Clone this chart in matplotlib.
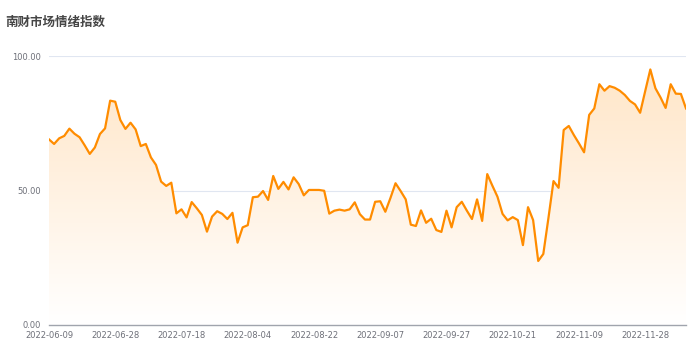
import numpy as np
import matplotlib
matplotlib.use('Agg')
import matplotlib.pyplot as plt
from matplotlib.colors import LinearSegmentedColormap

# sentiment index, one value per trading day
values = [
    69.0, 67.3, 69.4, 70.3, 73.0, 71.1, 69.8, 66.8, 63.6, 66.0,
    71.0, 73.1, 83.4, 83.0, 76.2, 72.9, 75.2, 72.7, 66.5, 67.3,
    62.3, 59.5, 53.3, 51.7, 52.9, 41.5, 43.0, 40.0, 45.7, 43.4,
    40.9, 34.7, 40.3, 42.3, 41.3, 39.4, 41.7, 30.6, 36.3, 37.1,
    47.5, 47.7, 49.8, 46.5, 55.4, 50.6, 53.2, 50.4, 54.9, 52.4,
    48.2, 50.2, 50.2, 50.2, 49.9, 41.4, 42.5, 42.9, 42.5, 43.0,
    45.6, 41.2, 39.2, 39.2, 45.8, 46.0, 42.1, 47.2, 52.7, 49.8,
    46.7, 37.3, 36.8, 42.6, 38.0, 39.5, 35.3, 34.6, 42.5, 36.3,
    43.8, 45.8, 42.5, 39.4, 46.7, 38.7, 56.1, 51.8, 47.7, 41.3,
    38.9, 40.1, 39.0, 29.7, 43.8, 39.0, 23.8, 26.4, 39.7, 53.5,
    51.0, 72.5, 74.0, 70.6, 67.5, 64.2, 78.1, 80.5, 89.5, 87.1,
    88.8, 88.2, 87.1, 85.5, 83.3, 82.0, 78.9, 87.0, 95.0, 88.0,
    84.6, 80.7, 89.5, 86.0, 85.9, 80.5,
]
tick_labels = ['2022-06-09', '2022-06-28', '2022-07-18', '2022-08-04', '2022-08-22',
               '2022-09-07', '2022-09-27', '2022-10-21', '2022-11-09', '2022-11-28']
label_step = 13
y_ticks = [0, 50, 100]

x = np.arange(len(values))
y = np.array(values)

fig = plt.figure(figsize=(7, 3.5), dpi=100)
ax = fig.add_axes([49 / 700, 1 - 325 / 350, 637 / 700, 269 / 350])

# gradient area under the line
poly = ax.fill_between(x, y, 0, color='none', lw=0)
cmap = LinearSegmentedColormap.from_list('g', ['#ffffff', '#ffe6c8'])
grad = np.linspace(0, 1, 256).reshape(-1, 1)
im = ax.imshow(grad, extent=[x[0], x[-1], 0, y.max()], origin='lower',
               aspect='auto', cmap=cmap, zorder=1)
im.set_clip_path(poly.get_paths()[0], transform=ax.transData)

ax.plot(x, y, color='#ff8c00', lw=1.6, zorder=3, solid_joinstyle='round')

ax.set_xlim(x[0], x[-1])
ax.set_ylim(0, 100)
ax.set_yticks(y_ticks)
ax.set_yticklabels([f'{v:.2f}' for v in y_ticks])
ax.set_xticks(x[::label_step][:len(tick_labels)])
ax.set_xticklabels(tick_labels)
ax.tick_params(axis='both', length=0, labelsize=6, labelcolor='#6e7079')
ax.tick_params(axis='y', pad=6)
ax.tick_params(axis='x', pad=4)

for v in y_ticks[1:]:
    ax.axhline(v, color='#e0e6f1', lw=0.8, zorder=0)
for s in ['top', 'right', 'left']:
    ax.spines[s].set_visible(False)
ax.spines['bottom'].set_color('#a0a4ad')
ax.spines['bottom'].set_linewidth(1.0)
ax.spines['bottom'].set_zorder(4)

fig.text(5 / 700, 1 - 22 / 350, '南财市场情绪指数', fontsize=9, fontweight='bold',
         color='#464646', va='center', ha='left',
         family=['Noto Sans CJK SC', 'DejaVu Sans'])

fig.savefig('out.png', dpi=100)
